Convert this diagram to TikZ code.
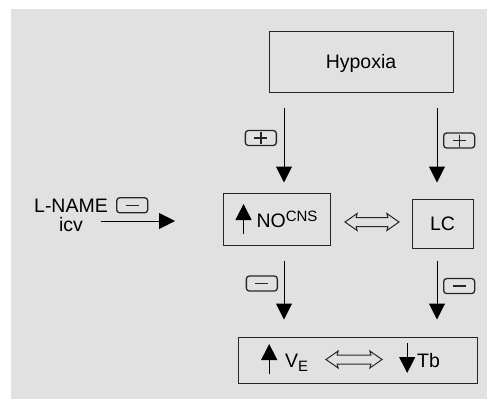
\documentclass[tikz,border=0pt]{standalone}
\usepackage{fontspec}
\setmainfont{Liberation Sans}
\usetikzlibrary{arrows.meta,shapes.arrows,positioning,calc}
\definecolor{bggray}{RGB}{225,225,225}
\newcommand{\smalltxt}{\fontsize{15}{15}\selectfont}
\newcommand{\uparr}{\tikz[baseline=0pt]\draw[line width=1pt,-{Triangle[length=16pt,width=16pt]}] (0pt,-7pt) -- (0pt,23pt);}
\newcommand{\downarr}{\tikz[baseline=0pt]\draw[line width=1pt,-{Triangle[length=16pt,width=16pt]}] (0pt,24pt) -- (0pt,-6pt);}

\begin{document}
\begin{tikzpicture}[x=1pt,y=-1pt,
    every node/.style={font=\fontsize{19.5}{19.5}\selectfont},
    box/.style={draw=black!85, line width=1pt, inner sep=0pt},
    arr/.style={line width=1pt, -{Triangle[length=16pt,width=16pt]}},
    bar/.style={line width=1.3pt, -, shorten <=0pt, shorten >=0pt, rounded corners=0pt},
    sign/.style={draw=black!85, line width=1.3pt, rounded corners=3pt, minimum width=31pt, minimum height=15pt, inner sep=0pt},
    negsign/.style={sign, path picture={\draw[bar]
        ([xshift=-6.5pt]path picture bounding box.center) -- ([xshift=6.5pt]path picture bounding box.center);}},
    possign/.style={sign, path picture={\draw[bar]
        ([xshift=-6.5pt]path picture bounding box.center) -- ([xshift=6.5pt]path picture bounding box.center)
        ([yshift=-6pt]path picture bounding box.center) -- ([yshift=6pt]path picture bounding box.center);}},
    dblarr/.style={double arrow, draw=black!85, line width=1pt, inner sep=4pt, minimum width=16pt,
        minimum height=54pt, double arrow head extend=4pt, double arrow tip angle=70, double arrow head indent=1pt}]
    \useasboundingbox (0,0) rectangle (487,399);
    \fill[bggray] (11,9) rectangle (487,399);

    \node[box, minimum width=184pt, minimum height=61pt, text depth=0pt] (hyp) at (361,61.5) {Hypoxia};
    \node[box, minimum width=107pt, minimum height=52pt] (no) at (276.5,219) {\uparr\hspace{5pt}NO\raisebox{6pt}{\smalltxt CNS}};
    \node[box, minimum width=61pt, minimum height=49pt] (lc) at (442.5,223.5) {LC};
    \node[dblarr] (nolc) at (372,222) {};
    \node[box, minimum width=239pt, minimum height=46pt] (out) at (357.5,360) {};
    \node[anchor=base west, inner sep=0pt] (ve) at (261,367) {\uparr\hspace{8pt}V\raisebox{-4pt}{\smalltxt E}};
    \node[dblarr, minimum height=56pt] (vetb) at (354,359.5) {};
    \node[anchor=base west, inner sep=0pt] (tb) at (399,367) {\downarr\hspace{2pt}Tb};

    % L-NAME input
    \node[anchor=base, inner sep=0pt] (lname) at (71,212) {L-NAME};
    \node[anchor=base, inner sep=0pt] (icv) at (71,231) {icv};
    \node[negsign, right=8pt of lname] (lnamesign) {};
    \coordinate (inS) at (101,221);
    \coordinate (inE) at (175,221);
    \draw[arr] (inS) -- (inE);

    \coordinate (colL) at (284,0);
    \coordinate (colR) at (437,0);
    \draw[arr, shorten <=15pt, shorten >=10pt] (hyp.south -| colL) -- node[possign, pos=.455, left=7pt] (s1) {} (no.north -| colL);
    \draw[arr, shorten <=15pt, shorten >=16pt] (hyp.south -| colR) -- node[possign, pos=.453, right=6pt] (s2) {} (lc.north -| colR);
    \draw[arr, shorten <=15pt, shorten >=17pt] (no.south -| colL) -- node[negsign, pos=.418, left=6pt] (s3) {} (out.north -| colL);
    \draw[arr, shorten <=12pt, shorten >=17pt] (lc.south -| colR) -- node[negsign, pos=.427, right=6pt] (s4) {} (out.north -| colR);
\end{tikzpicture}
\end{document}
